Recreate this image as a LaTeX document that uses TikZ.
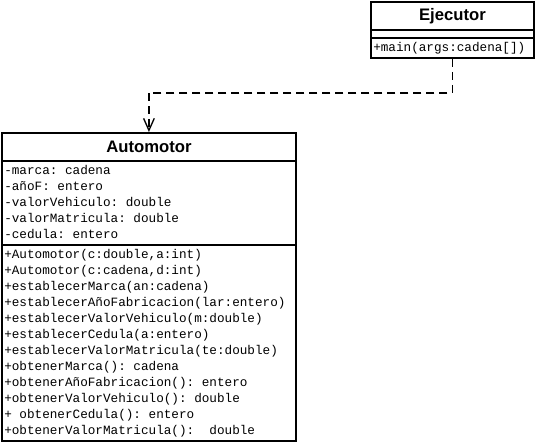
\documentclass[tikz,border=0pt]{standalone}
\usepackage{fontspec}
\setsansfont{Liberation Sans}
\setmonofont{Liberation Mono}
\usetikzlibrary{arrows.meta}

\def\u{0.75pt}
\tikzset{
  compart/.style={draw, line width=1.4pt, anchor=north west, inner sep=0pt},
  classname/.style={font=\sffamily\bfseries\fontsize{12.5}{14}\selectfont},
  members/.style={anchor=north west, align=left, inner sep=0pt,
    font=\ttfamily\fontsize{9.5}{12}\selectfont},
  dep/.style={line width=1.4pt, dash pattern=on 6pt off 3.75pt,
    -{Straight Barb[length=9pt, width=8pt, line width=1pt]}}
}

\begin{document}
\begin{tikzpicture}[x=0.75pt, y=-0.75pt]
\useasboundingbox (0,0) rectangle (536,442);

% Ejecutor
\node[compart, classname, minimum width=163*\u, minimum height=28*\u] (ejt) at (370, 1) {Ejecutor};
\node[compart, minimum width=163*\u, minimum height=8*\u] (eja) at (370, 29) {};
\node[compart, minimum width=163*\u, minimum height=20*\u] (ejm) at (370, 37) {};
\node[members] (ejmt) at (373, 42) {+main(args:cadena[])};

% Automotor
\node[compart, classname, minimum width=294*\u, minimum height=28*\u] (aut) at (1, 132) {Automotor};
\node[compart, minimum width=294*\u, minimum height=84*\u] (aua) at (1, 160) {};
\node[compart, minimum width=294*\u, minimum height=196*\u] (aum) at (1, 244) {};

\node[members] (auat) at (4, 165) {-marca: cadena\\
-añoF: entero\\
-valorVehiculo: double\\
-valorMatricula: double\\
-cedula: entero};

\node[members] (aumt) at (4, 249) {+Automotor(c:double,a:int)\\
+Automotor(c:cadena,d:int)\\
+establecerMarca(an:cadena)\\
+establecerAñoFabricacion(lar:entero)\\
+establecerValorVehiculo(m:double)\\
+establecerCedula(a:entero)\\
+establecerValorMatricula(te:double)\\
+obtenerMarca(): cadena\\
+obtenerAñoFabricacion(): entero\\
+obtenerValorVehiculo(): double\\
+ obtenerCedula(): entero\\
+obtenerValorMatricula():~~double};

% dependencia
\draw[dep] (ejm.south) -- ++(0, 34) -| (aut.north);
\end{tikzpicture}
\end{document}
